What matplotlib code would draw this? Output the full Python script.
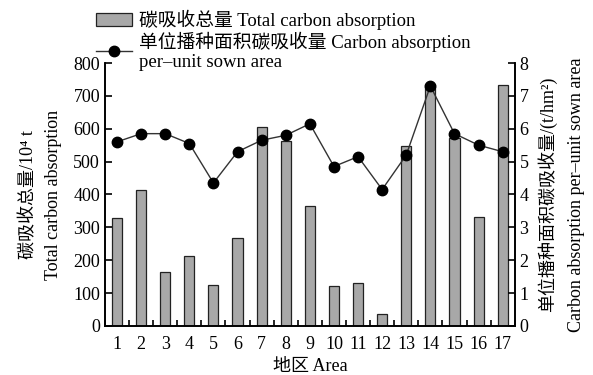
import matplotlib.pyplot as plt
import numpy as np
from matplotlib.ticker import MultipleLocator

plt.rcParams['font.family'] = ['Liberation Serif', 'DejaVu Serif', 'Noto Sans CJK SC']

# 数据
areas = [str(i) for i in range(1, 18)]
total_absorption = [328, 412, 165, 213, 125, 268, 605, 562, 365, 120, 130, 35, 548, 735, 572, 332, 733]
per_unit = [5.6, 5.85, 5.85, 5.55, 4.35, 5.3, 5.65, 5.8, 6.15, 4.85, 5.15, 4.15, 5.2, 7.3, 5.85, 5.5, 5.3]

fig = plt.figure(figsize=(5.93, 3.75), dpi=100)
ax = fig.add_axes([0.177, 0.131, 0.691, 0.701])
x = np.arange(1, 18)

bars = ax.bar(x, total_absorption, width=0.42, color='#a8a8a8', edgecolor='#222222', linewidth=0.9,
              label='碳吸收总量 Total carbon absorption')
ax.set_xlim(0.5, 17.5)
ax.set_ylim(0, 800)
ax.set_xticks(x)
ax.set_xticklabels(areas)
ax.xaxis.set_minor_locator(MultipleLocator(1, offset=0.5))
ax.yaxis.set_major_locator(MultipleLocator(100))
ax.tick_params(axis='both', which='both', direction='in', labelsize=13, width=1.2)
ax.tick_params(axis='x', which='major', length=0, pad=7)
ax.tick_params(axis='x', which='minor', length=4)
ax.tick_params(axis='y', length=5)
ax.set_xlabel('地区 Area', fontsize=13, labelpad=4)
ax.set_ylabel('碳吸收总量/10\u2074 t\nTotal carbon absorption', fontsize=13,
              linespacing=1.6, labelpad=8)

ax2 = ax.twinx()
line, = ax2.plot(x, per_unit, color='#333333', linewidth=1.0, marker='o', markersize=7.5,
                 markerfacecolor='black', markeredgecolor='black',
                 label='单位播种面积碳吸收量 Carbon absorption\nper\u2013unit sown area')
ax2.set_ylim(0, 8)
ax2.yaxis.set_major_locator(MultipleLocator(1))
ax2.tick_params(axis='y', direction='in', labelsize=13, length=5, width=1.2)
ax2.set_ylabel('单位播种面积碳吸收量/(t/hm\u00b2)\nCarbon absorption per\u2013unit sown area',
               fontsize=13, rotation=90, labelpad=6, linespacing=1.9)

for a in (ax, ax2):
    for s in a.spines.values():
        s.set_linewidth(1.2)
    a.spines['top'].set_visible(False)

fig.legend(handles=[bars, line], loc='upper left', bbox_to_anchor=(0.14, 1.01),
           frameon=False, fontsize=13.5, handlelength=1.9, handletextpad=0.4,
           labelspacing=0.1, borderpad=0.2)

fig.savefig('out.png', dpi=100)
